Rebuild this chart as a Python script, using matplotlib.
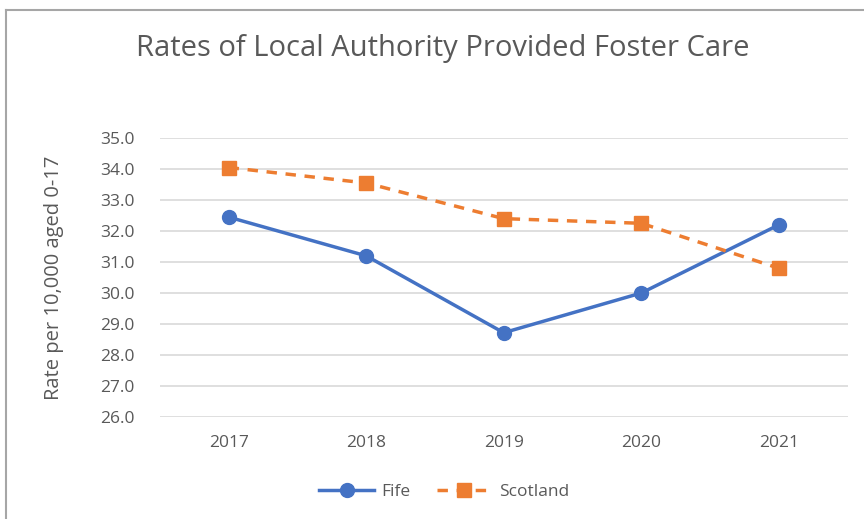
import matplotlib
matplotlib.use('Agg')
import matplotlib.pyplot as plt
from matplotlib.lines import Line2D

years = ['2017', '2018', '2019', '2020', '2021']
fife = [32.45, 31.2, 28.72, 30.0, 32.2]
scotland = [34.05, 33.55, 32.4, 32.25, 30.8]

plt.rcParams['font.family'] = ['Open Sans', 'DejaVu Sans']
grey = '#595959'

fig = plt.figure(figsize=(8.64, 5.19), dpi=100)
ax = fig.add_axes([0.185, 0.1965, 0.796, 0.5375])

x = list(range(len(years)))
ax.plot(x, fife, color='#4472C4', lw=2.5, marker='o', ms=10, label='Fife')
ax.plot(x, scotland, color='#ED7D31', lw=2.5, ls=(0, (3, 2.5)), marker='s', ms=10, label='Scotland')

ax.set_xlim(-0.5, 4.5)
ax.set_ylim(26, 35)
ax.set_yticks([26 + i for i in range(10)])
ax.set_yticklabels([f'{26 + i:.1f}' for i in range(10)])
ax.set_xticks(x)
ax.set_xticklabels(years)
ax.grid(axis='y', color='#D9D9D9', lw=1.2)
ax.set_axisbelow(True)
for s in ax.spines.values():
    s.set_visible(False)
ax.tick_params(length=0, colors=grey, labelsize=12.5)
ax.tick_params(axis='x', pad=13)
ax.tick_params(axis='y', pad=18)
ax.set_ylabel('Rate per 10,000 aged 0-17', color=grey, fontsize=14.5, labelpad=26)

fig.text(0.512, 0.907, 'Rates of Local Authority Provided Foster Care', ha='center', va='center',
         fontsize=21, color=grey)

fig.legend(loc='center', bbox_to_anchor=(0.514, 0.052), ncol=2, frameon=False,
           fontsize=12.5, labelcolor=grey, handlelength=3.2, handletextpad=0.4,
           columnspacing=1.5)

# chart frame, cropped on the right and bottom
bx, by = 5.5 / 864, 1 - 9.5 / 519
fig.add_artist(Line2D([bx, bx], [0, by], transform=fig.transFigure, color='#A6A6A6', lw=1.5))
fig.add_artist(Line2D([bx, 1], [by, by], transform=fig.transFigure, color='#A6A6A6', lw=1.5))

fig.savefig('out.png', dpi=100)
